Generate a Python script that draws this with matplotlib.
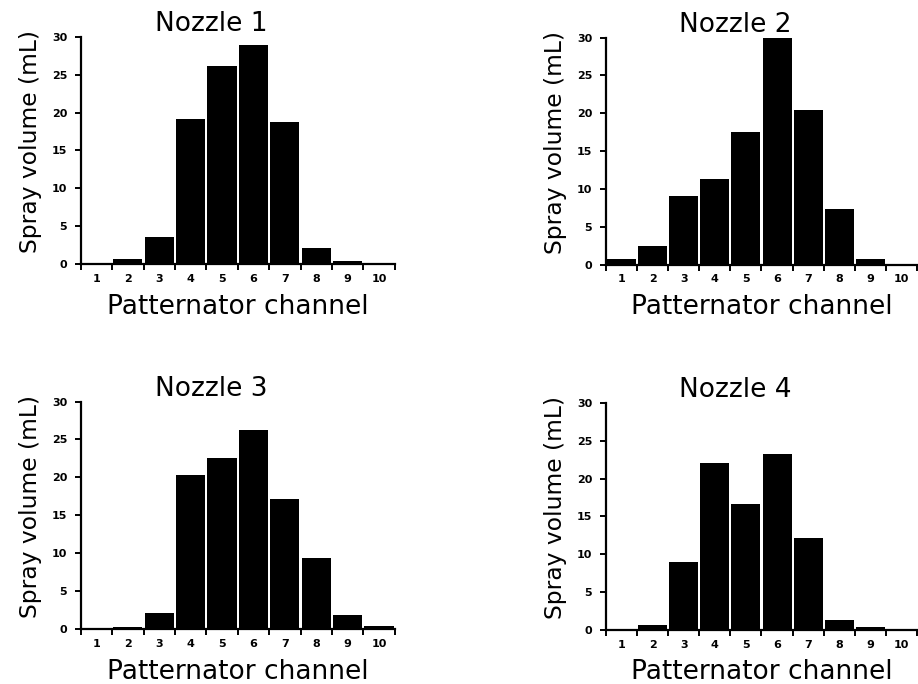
import numpy as np
import matplotlib
matplotlib.use('Agg')
import matplotlib.pyplot as plt
from matplotlib.ticker import FixedLocator

channels = np.arange(1, 11)
nozzle1 = [0.2, 0.65, 3.6, 19.2, 26.2, 29.0, 18.8, 2.1, 0.35, 0.1]
nozzle2 = [0.75, 2.5, 9.1, 11.3, 17.5, 30.0, 20.5, 7.3, 0.75, 0.1]
nozzle3 = [0.05, 0.3, 2.1, 20.3, 22.5, 26.3, 17.2, 9.4, 1.9, 0.45]
nozzle4 = [0.05, 0.7, 9.0, 22.0, 16.7, 23.2, 12.1, 1.3, 0.35, 0.05]
titles = ['Nozzle 1', 'Nozzle 2', 'Nozzle 3', 'Nozzle 4']
yticks = [0, 5, 10, 15, 20, 25, 30]

plt.rcParams['font.family'] = 'DejaVu Sans'

fig = plt.figure(figsize=(9.18, 6.84), dpi=100)

# axes boxes in figure fractions
boxes = [(0.088, 0.614, 0.342, 0.332),
         (0.660, 0.613, 0.339, 0.332),
         (0.088, 0.080, 0.342, 0.333),
         (0.660, 0.079, 0.339, 0.332)]

for box, vals, title in zip(boxes, [nozzle1, nozzle2, nozzle3, nozzle4], titles):
    ax = fig.add_axes(box)
    ax.bar(channels, vals, width=0.93, color='black', edgecolor='none')
    ax.set_xlim(0.5, 10.5)
    ax.set_ylim(0, 30)
    for s in ['top', 'right']:
        ax.spines[s].set_visible(False)
    for s in ['left', 'bottom']:
        ax.spines[s].set_linewidth(1.6)
    ax.set_yticks(yticks)
    ax.set_xticks(channels)
    ax.xaxis.set_minor_locator(FixedLocator(np.arange(0.5, 11, 1)))
    ax.tick_params(axis='x', which='major', length=0, pad=7)
    ax.tick_params(axis='x', which='minor', length=4.5, width=1.4, direction='out')
    ax.tick_params(axis='y', length=4.3, width=1.4, direction='out', pad=5.5)
    for lab in ax.get_xticklabels() + ax.get_yticklabels():
        lab.set_fontweight('bold')
        lab.set_fontsize(8)
    ax.set_xlabel('Patternator channel', fontsize=19, va='baseline')
    ax.set_ylabel('Spray volume (mL)', fontsize=16.8)
    ax.xaxis.set_label_coords(0.5, -0.218)
    ax.yaxis.set_label_coords(-0.124, 0.54)
    ax.text(0.415, 1.024, title, transform=ax.transAxes, ha='center',
            va='baseline', fontsize=19)

plt.savefig('out.png', dpi=100)
